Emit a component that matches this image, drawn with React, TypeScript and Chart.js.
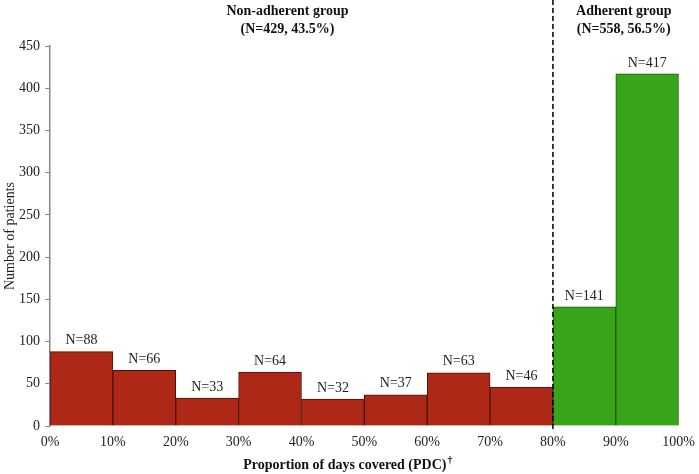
import React, { useEffect, useRef } from "react";
import { Chart, registerables } from "chart.js";

Chart.register(...registerables);

const binStarts = [0, 10, 20, 30, 40, 50, 60, 70, 80, 90];
const counts = [88, 66, 33, 64, 32, 37, 63, 46, 141, 417];
const xTicks = [0, 10, 20, 30, 40, 50, 60, 70, 80, 90, 100];
const yTicks = [0, 50, 100, 150, 200, 250, 300, 350, 400, 450];
const threshold = 80;
const groupLabels = [
  { lines: ["Non-adherent group", "(N=429, 43.5%)"], from: 0, to: 80 },
  { lines: ["Adherent group", "(N=558, 56.5%)"], from: 80, to: 100 },
];
const xTitle = "Proportion of days covered (PDC)";
const xTitleMark = "†";
const RED = "#ad2816";
const GREEN = "#37a41a";
const FONT = "'Liberation Serif', 'Times New Roman', serif";

const annotPlugin = {
  id: "annot",
  afterDatasetsDraw(chart: any) {
    const { ctx, scales } = chart;
    const x = scales.x;
    const y = scales.y;
    ctx.save();
    // bar labels
    ctx.font = `14px ${FONT}`;
    ctx.fillStyle = "#222";
    ctx.textAlign = "center";
    ctx.textBaseline = "bottom";
    counts.forEach((c, i) => {
      const cx = x.getPixelForValue(binStarts[i] + 5);
      const cy = y.getPixelForValue(c);
      ctx.fillText(`N=${c}`, cx, cy - 4);
    });
    // dashed threshold
    const tx = x.getPixelForValue(threshold);
    ctx.strokeStyle = "#000";
    ctx.lineWidth = 1.5;
    ctx.setLineDash([5, 3]);
    ctx.beginPath();
    ctx.moveTo(tx, 0);
    ctx.lineTo(tx, y.getPixelForValue(0) + 6);
    ctx.stroke();
    ctx.setLineDash([]);
    // group labels
    ctx.font = `bold 14px ${FONT}`;
    ctx.fillStyle = "#111";
    ctx.textBaseline = "middle";
    groupLabels.forEach((g, gi) => {
      const cx =
        (x.getPixelForValue(g.from) + x.getPixelForValue(g.to)) / 2 + (gi === 0 ? -14 : 8);
      g.lines.forEach((ln, li) => {
        ctx.fillText(ln, cx, 11 + li * 18);
      });
    });
    // x title with superscript dagger
    ctx.font = `bold 14px ${FONT}`;
    const w1 = ctx.measureText(xTitle).width;
    ctx.font = `bold 10px ${FONT}`;
    const w2 = ctx.measureText(xTitleMark).width;
    const center = (x.getPixelForValue(0) + x.getPixelForValue(100)) / 2 - 17;
    const left = center - (w1 + w2) / 2;
    ctx.textAlign = "left";
    ctx.textBaseline = "alphabetic";
    ctx.font = `bold 14px ${FONT}`;
    ctx.fillText(xTitle, left, 469);
    ctx.font = `bold 10px ${FONT}`;
    ctx.fillText(xTitleMark, left + w1 + 1, 463);
    ctx.restore();
  },
};

export default function App() {
  const ref = useRef<HTMLCanvasElement>(null);
  useEffect(() => {
    document.body.style.margin = "0";
    const chart = new Chart(ref.current!, {
      type: "bar",
      data: {
        datasets: [
          {
            data: binStarts.map((s, i) => ({ x: s + 5, y: counts[i] })),
            backgroundColor: binStarts.map((s) => (s >= threshold ? GREEN : RED)),
            borderColor: binStarts.map((s) => (s >= threshold ? "#1f5a0e" : "#4a1208")),
            borderWidth: 1,
            barPercentage: 1,
            categoryPercentage: 1,
          },
        ],
      },
      options: {
        responsive: false,
        animation: false,
        layout: { padding: { left: 0, right: 20, top: 46, bottom: 0 } },
        plugins: {
          legend: { display: false },
          tooltip: { enabled: false },
        },
        scales: {
          x: {
            type: "linear",
            min: 0,
            max: 100,
            offset: false,
            afterBuildTicks: (s: any) => {
              s.ticks = xTicks.map((v) => ({ value: v }));
            },
            afterFit: (s: any) => {
              s.height = 48;
            },
            grid: {
              display: true,
              drawOnChartArea: false,
              drawTicks: true,
              tickLength: 4,
              color: "rgba(0,0,0,0)",
              offset: false,
            },
            border: { display: false },
            ticks: {
              callback: (v: any) => `${v}%`,
              font: { family: FONT, size: 14 },
              color: "#222",
              padding: 4,
              maxRotation: 0,
            },
          },
          y: {
            min: 0,
            max: 450,
            afterBuildTicks: (s: any) => {
              s.ticks = yTicks.map((v) => ({ value: v }));
            },
            afterFit: (s: any) => {
              s.width = 50;
            },
            grid: {
              drawOnChartArea: false,
              drawTicks: true,
              tickLength: 5,
              color: "#888",
            },
            border: { display: true, color: "#888", width: 1.5 },
            ticks: {
              font: { family: FONT, size: 14 },
              color: "#222",
              padding: 5,
            },
            title: {
              display: true,
              text: "Number of patients",
              font: { family: FONT, size: 14 },
              color: "#222",
              padding: { top: 2, bottom: 0 },
            },
          },
        },
      },
      plugins: [annotPlugin],
    } as any);
    return () => chart.destroy();
  }, []);
  return <canvas ref={ref} width={699} height={474} style={{ display: "block" }} />;
}
